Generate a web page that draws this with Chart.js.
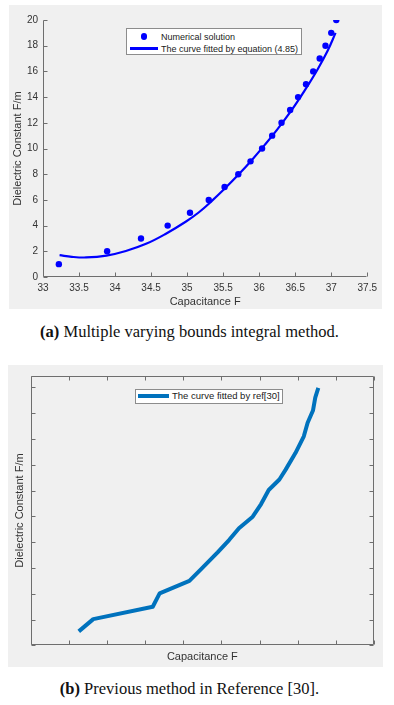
<!DOCTYPE html>
<html>
<head>
<meta charset="utf-8">
<script src="https://cdn.jsdelivr.net/npm/chart.js@4.4.1/dist/chart.umd.min.js"></script>
<style>
  body { margin: 0; background: #fff; width: 394px; height: 705px; position: relative; overflow: hidden;
         font-family: "Liberation Sans", Arial, sans-serif; }
  .fig { position: absolute; background: #f0f0f0; }
  .fig canvas { position: absolute; left: 0; top: 0; }
  .legend { position: absolute; background: #fff; border: 1px solid #8c8c8c; box-sizing: border-box;
            color: #1a1a1a; white-space: nowrap; }
  .legend .mark { position: absolute; }
  .legend .txt { position: absolute; }
  .caption { position: absolute; left: 0; width: 379px; text-align: center; line-height: 20px;
             font-family: "Liberation Serif", "Times New Roman", serif; font-size: 16.5px; color: #111; }
</style>
</head>
<body>

<div class="fig" style="left:9px; top:5px; width:373px; height:304px;">
  <canvas id="chartA" width="373" height="304"></canvas>
</div>
<div class="legend" id="legendA" style="left:126px; top:28px; width:176px; height:27px; font-size:9px;"></div>
<div class="caption" style="top:322px;"><b>(a)</b> Multiple varying bounds integral method.</div>

<div class="fig" style="left:8px; top:365px; width:375px; height:302px;">
  <canvas id="chartB" width="375" height="302"></canvas>
</div>
<div class="legend" id="legendB" style="left:135px; top:389px; width:148px; height:15px; font-size:9.5px;"></div>
<div class="caption" style="top:679px;"><b>(b)</b> Previous method in Reference [30].</div>

<script>
// (a) numerical solution points
const numX = [33.22, 33.89, 34.36, 34.73, 35.04, 35.30, 35.52, 35.71, 35.88, 36.04,
              36.18, 36.31, 36.43, 36.54, 36.65, 36.75, 36.84, 36.92, 37.00, 37.07];
const numY = [1, 2, 3, 4, 5, 6, 7, 8, 9, 10, 11, 12, 13, 14, 15, 16, 17, 18, 19, 20];

// (a) fitted curve
const fitX = [33.23, 33.40, 33.60, 33.88, 34.15, 34.43, 34.70, 34.98, 35.16, 35.34,
              35.53, 35.71, 35.89, 36.08, 36.26, 36.45, 36.63, 36.81, 36.95, 37.06];
const fitY = [1.70, 1.57, 1.52, 1.66, 2.02, 2.58, 3.35, 4.30, 5.02, 5.90,
              6.92, 7.95, 9.05, 10.30, 11.55, 12.98, 14.50, 16.15, 17.60, 19.00];

// (b) curve fitted by ref[30]
const refX = [33.63, 33.82, 34.60, 34.69, 35.08, 35.25, 35.45, 35.60, 35.73, 35.91,
              36.02, 36.12, 36.26, 36.34, 36.47, 36.58, 36.63, 36.70, 36.73, 36.77];
const refY = [1.08, 2.03, 2.99, 4.03, 5.00, 6.00, 7.20, 8.16, 9.07, 9.97,
              10.95, 12.04, 12.85, 13.60, 14.90, 16.20, 17.25, 18.20, 19.20, 19.95];

// axis ticks
const xTicks = [33, 33.5, 34, 34.5, 35, 35.5, 36, 36.5, 37, 37.5];
const yTicks = [0, 2, 4, 6, 8, 10, 12, 14, 16, 18, 20];

const toPts = (xs, ys) => xs.map((x, i) => ({ x, y: ys[i] }));
const axisColor = '#6e6e6e';
const textColor = '#333';

// MATLAB style axes: ticks pointing inward, optional box
const innerAxes = {
  id: 'innerAxes',
  afterDraw(chart, args, opts) {
    const { ctx, chartArea: a, scales: { x, y } } = chart;
    const L = Math.round(a.left) + 0.5, R = Math.round(a.right) - 0.5;
    const T = Math.round(a.top) + 0.5, B = Math.round(a.bottom) - 0.5;
    const len = 4;
    ctx.save();
    ctx.strokeStyle = axisColor;
    ctx.lineWidth = 1;
    ctx.beginPath();
    ctx.moveTo(L, T); ctx.lineTo(L, B); ctx.lineTo(R, B);
    if (opts.box) { ctx.lineTo(R, T); ctx.lineTo(L, T); }
    xTicks.forEach(v => {
      const px = Math.round(x.getPixelForValue(v)) + 0.5;
      ctx.moveTo(px, B); ctx.lineTo(px, B - len);
      if (opts.box) { ctx.moveTo(px, T); ctx.lineTo(px, T + len); }
    });
    yTicks.forEach(v => {
      const py = Math.round(y.getPixelForValue(v)) + 0.5;
      ctx.moveTo(L, py); ctx.lineTo(L + len, py);
      if (opts.box) { ctx.moveTo(R, py); ctx.lineTo(R - len, py); }
    });
    ctx.stroke();
    ctx.restore();
  }
};

function axisOpts(min, max, showLabels, title, fit, titlePad) {
  return {
    type: 'linear', min, max,
    afterBuildTicks: s => { s.ticks = (s.axis === 'x' ? xTicks : yTicks).filter(v => v <= max).map(v => ({ value: v })); },
    ticks: { display: showLabels, padding: 5, color: textColor, font: { size: 10, family: 'Liberation Sans' },
             callback: v => String(+v.toFixed(2)) },
    grid: { display: false, drawTicks: false },
    border: { display: false },
    title: { display: true, text: title, color: textColor, padding: titlePad,
             font: { size: 11, family: 'Liberation Sans' } },
    afterFit: fit
  };
}

const chartA = new Chart(document.getElementById('chartA'), {
  type: 'scatter',
  data: {
    datasets: [
      { label: 'Numerical solution', data: toPts(numX, numY), showLine: false,
        backgroundColor: '#0000ff', borderColor: '#0000ff', pointRadius: 3.2, pointBorderWidth: 0 },
      { label: 'The curve fitted by equation (4.85)', data: toPts(fitX, fitY), showLine: true,
        borderColor: '#0000ff', borderWidth: 2.2, pointRadius: 0, tension: 0.4 }
    ]
  },
  options: {
    responsive: false, animation: false, devicePixelRatio: 1,
    layout: { padding: { left: 0, top: 15, right: 12, bottom: 0 } },
    plugins: { legend: { display: false }, tooltip: { enabled: false }, innerAxes: { box: false } },
    scales: {
      x: axisOpts(33, 37.5, true, 'Capacitance F', s => { s.height = 32; }, { top: 0, bottom: 0 }),
      y: axisOpts(0, 20, true, 'Dielectric Constant F/m', s => { s.width = 34; }, { top: 2.7, bottom: 0 })
    }
  },
  plugins: [innerAxes]
});

const chartB = new Chart(document.getElementById('chartB'), {
  type: 'scatter',
  data: {
    datasets: [
      { label: 'The curve fitted by ref[30]', data: toPts(refX, refY), showLine: true,
        borderColor: '#0072bd', borderWidth: 4, pointRadius: 0, tension: 0,
        borderJoinStyle: 'round', borderCapStyle: 'butt' }
    ]
  },
  options: {
    responsive: false, animation: false, devicePixelRatio: 1,
    layout: { padding: { left: 0, top: 10.7, right: 9, bottom: 0 } },
    plugins: { legend: { display: false }, tooltip: { enabled: false }, innerAxes: { box: true } },
    scales: {
      x: axisOpts(33, 37.5, false, 'Capacitance F', s => { s.height = 21.7; }, { top: 0, bottom: 3 }),
      y: axisOpts(0, 20.9, false, 'Dielectric Constant F/m', s => { s.width = 22.7; }, { top: 5.4, bottom: 0 })
    }
  },
  plugins: [innerAxes]
});

// legends as html boxes, built from the datasets
function buildLegend(el, chart, rows) {
  chart.data.datasets.forEach((ds, i) => {
    const r = rows[i];
    const mark = document.createElement('div');
    mark.className = 'mark';
    if (ds.showLine) {
      Object.assign(mark.style, { left: r.x0 + 'px', top: (r.y - ds.borderWidth / 2) + 'px',
        width: (r.x1 - r.x0) + 'px', height: ds.borderWidth + 'px', background: ds.borderColor });
    } else {
      const d = ds.pointRadius * 2;
      Object.assign(mark.style, { left: (r.cx - d / 2) + 'px', top: (r.y - d / 2) + 'px',
        width: d + 'px', height: d + 'px', borderRadius: '50%', background: ds.backgroundColor });
    }
    const txt = document.createElement('div');
    txt.className = 'txt';
    txt.textContent = ds.label;
    Object.assign(txt.style, { left: r.tx + 'px', top: (r.y - 6) + 'px', lineHeight: '12px' });
    el.appendChild(mark);
    el.appendChild(txt);
  });
}

buildLegend(document.getElementById('legendA'), chartA, [
  { cx: 17, y: 7.5, tx: 34 },
  { x0: 2.5, x1: 31, y: 19.5, tx: 34 }
]);
buildLegend(document.getElementById('legendB'), chartB, [
  { x0: 2, x1: 32.5, y: 6.3, tx: 36 }
]);
</script>
</body>
</html>
